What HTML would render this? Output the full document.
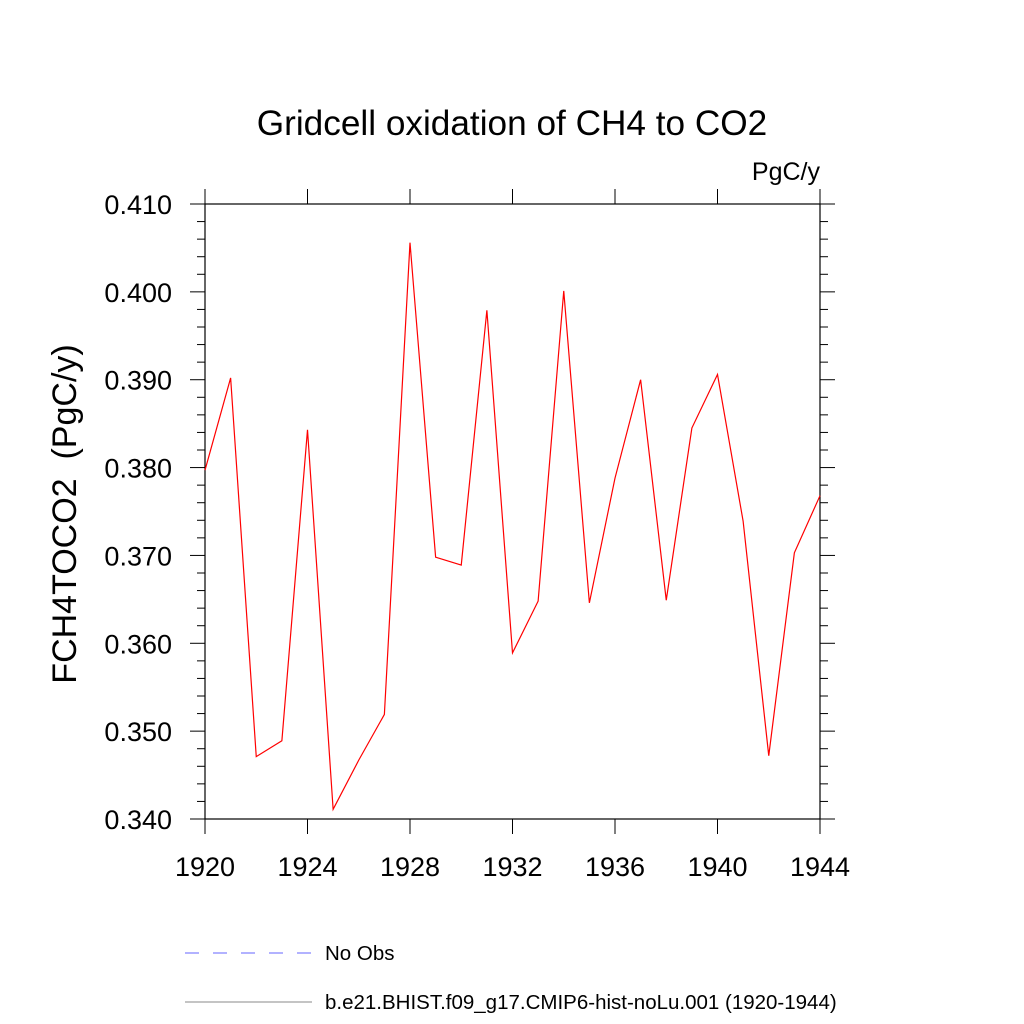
<!DOCTYPE html>
<html><head><meta charset="utf-8"><style>
html,body{margin:0;padding:0;background:#fff;}
svg{display:block;font-family:"Liberation Sans",sans-serif;}
</style></head><body>
<svg id="chart" width="1024" height="1024" viewBox="0 0 1024 1024">
<text x="512" y="135" font-size="35.2" text-anchor="middle">Gridcell oxidation of CH4 to CO2</text>
<text x="820" y="180" font-size="25" text-anchor="end">PgC/y</text>
<text transform="translate(76,514) rotate(-90)" font-size="34" text-anchor="middle" style="white-space:pre" xml:space="preserve">FCH4TOCO2  (PgC/y)</text>
<g id="ticks"></g>
<rect x="205" y="204" width="615" height="615" fill="none" stroke="#000" stroke-width="1.2"/>
<polyline id="series" fill="none" stroke="#ff0000" stroke-width="1.2"/>
<line x1="185" y1="953" x2="312" y2="953" stroke="#6666ff" stroke-width="1" stroke-dasharray="14,14"/>
<text x="325" y="960" font-size="20.5">No Obs</text>
<line x1="185" y1="1002" x2="312" y2="1002" stroke="#888" stroke-width="1"/>
<text x="325" y="1009" font-size="20.5">b.e21.BHIST.f09_g17.CMIP6-hist-noLu.001 (1920-1944)</text>
</svg>
<script>
const years=[1920,1921,1922,1923,1924,1925,1926,1927,1928,1929,1930,1931,1932,1933,1934,1935,1936,1937,1938,1939,1940,1941,1942,1943,1944];
const values=[0.3797,0.3902,0.3471,0.3489,0.3843,0.3411,0.3467,0.3519,0.4056,0.3698,0.3689,0.3979,0.3589,0.3648,0.4001,0.3646,0.3788,0.3900,0.3649,0.3845,0.3906,0.3739,0.3472,0.3703,0.3768];
const xTicks=[1920,1924,1928,1932,1936,1940,1944];
const yTicks=[0.340,0.350,0.360,0.370,0.380,0.390,0.400,0.410];
const NS="http://www.w3.org/2000/svg";
function xs(v){return 205+(v-1920)/24*615;}
function ys(v){return 819-(v-0.340)/0.070*615;}
const g=document.getElementById('ticks');
function ln(x1,y1,x2,y2,name){const l=document.createElementNS(NS,'line');
l.setAttribute('x1',x1);l.setAttribute('y1',y1);l.setAttribute('x2',x2);l.setAttribute('y2',y2);
l.setAttribute('stroke','#000');l.setAttribute('stroke-width','1');


g.appendChild(l);}
function tx(x,y,s,anchor,name){const t=document.createElementNS(NS,'text');
t.setAttribute('x',x);t.setAttribute('y',y);t.setAttribute('font-size','27');t.setAttribute('text-anchor',anchor);t.textContent=s;


g.appendChild(t);}
xTicks.forEach(v=>{const x=xs(v);ln(x,819,x,834,'x-tick');ln(x,204,x,189,'x-tick-top');tx(x,876,String(v),'middle','x-tick-label');});
for(let i=0;i<=35;i++){const v=0.340+i*0.002;const y=ys(v);const major=i%5===0;
ln(205,y,major?190:197,y,'y-tick');ln(820,y,major?835:828,y,'y-tick-right');}
yTicks.forEach(v=>{tx(172,ys(v)+10,v.toFixed(3),'end','y-tick-label');});
document.getElementById('series').setAttribute('points',years.map((y,i)=>xs(y)+','+ys(values[i])).join(' '));
</script>
</body></html>
